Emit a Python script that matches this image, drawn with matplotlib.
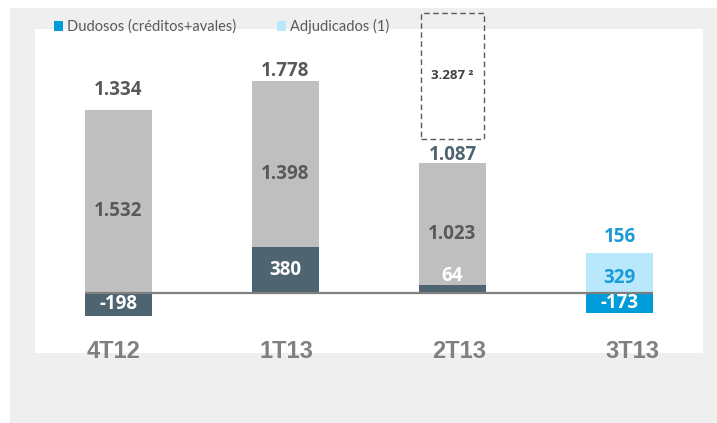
import matplotlib
matplotlib.use("Agg")
import matplotlib.pyplot as plt
from matplotlib.patches import Rectangle

# data
quarters = ["4T12", "1T13", "2T13", "3T13"]
dudosos = [-198, 380, 64, -173]          # bottom segment
resto = [1532, 1398, 1023, 329]          # upper segment
totales = ["1.334", "1.778", "1.087", "156"]
inner_dud = ["-198", "380", "64", "-173"]
inner_resto = ["1.532", "1.398", "1.023", "329"]
broken_label = "3.287 \u00b2"
broken_range = [1290, 2350]             # dashed box for the off-scale 2T13 value
legend_labels = ["Dudosos (créditos+avales)", "Adjudicados (1)"]

GRAY = "#bfbfbf"
SLATE = "#4e6571"
BLUE = "#009bd9"
LBLUE = "#b9e8fc"
TXT = "#595959"
LBLTXT = "#1a9ad6"

bottom_colors = [SLATE, SLATE, SLATE, BLUE]
top_colors = [GRAY, GRAY, GRAY, LBLUE]
top_txt = [TXT, TXT, TXT, LBLTXT]
total_txt = [TXT, TXT, SLATE, LBLTXT]
total_pad = [15, 5, 3, 11]   # px gap above the bar

NUM = ["Open Sans", "DejaVu Sans"]
LEG = ["Lato", "DejaVu Sans"]
FS = 13.5

W, H = 717, 423
fig = plt.figure(figsize=(W / 100, H / 100), dpi=100)
fig.patch.set_facecolor("white")

def px(x, y, w, h, **kw):
    # rectangle in pixel coords from the top-left corner
    r = Rectangle((x / W, 1 - (y + h) / H), w / W, h / H, transform=fig.transFigure, **kw)
    fig.add_artist(r)
    return r

px(10, 8, 707, 415, color="#efefef", lw=0, zorder=-10)
px(35, 29, 668, 324, color="white", lw=0, zorder=-9)

scale = 0.119    # px per unit
zero_px = 292.5
ax_top, ax_bot = 8, 423
ax = fig.add_axes([85 / W, 1 - ax_bot / H, (653 - 85) / W, (ax_bot - ax_top) / H])
ax.set_xlim(-0.2, 3.2)
ax.set_ylim(-(ax_bot - zero_px) / scale, (zero_px - ax_top) / scale)
ax.axis("off")
ax.patch.set_alpha(0)

x = range(len(quarters))
bw = 0.4
ax.bar(x, dudosos, width=bw, color=bottom_colors, zorder=2)
ax.bar(x, resto, width=bw, bottom=[max(d, 0) for d in dudosos], color=top_colors, zorder=2)
ax.axhline(0, color="#7f7f7f", lw=1.6, zorder=3)

u = 1 / scale   # data units per pixel
for i in x:
    d = dudosos[i]
    base = max(d, 0)
    # bottom segment label
    if abs(d) < 150:
        ax.text(i, d - 1 * u, inner_dud[i], ha="center", va="bottom", color="white",
                fontsize=FS, fontweight="bold", family=NUM, zorder=4)
    else:
        ax.text(i, d / 2, inner_dud[i], ha="center", va="center", color="white",
                fontsize=FS, fontweight="bold", family=NUM, zorder=4)
    # upper segment label
    top = base + resto[i]
    off = 10 * u if resto[i] > 600 else 5 * u
    ax.text(i, base + resto[i] / 2 - off, inner_resto[i], ha="center", va="center",
            color=top_txt[i], fontsize=FS, fontweight="bold", family=NUM, zorder=4)
    # total
    ax.text(i, top + total_pad[i] * u, totales[i], ha="center", va="baseline",
            color=total_txt[i], fontsize=FS, fontweight="bold", family=NUM, zorder=4)
    # category
    ax.text(i * 1.034 - 0.027, -(358 - zero_px) * u, quarters[i], ha="center", va="baseline",
            color="#808080", fontsize=17, fontweight="bold", family="Liberation Sans")

# dashed box for the off-scale value
ax.add_patch(Rectangle((2 - 0.19, broken_range[0]), 0.38, broken_range[1] - broken_range[0],
                       fill=False, ec=TXT, lw=1, ls=(0, (4, 2.5)), zorder=3))
ax.text(2, sum(broken_range) / 2, broken_label, ha="center", va="center", color="#404040",
        fontsize=9.5, fontweight="bold", family=NUM)

# legend
for lx, col, lab in [(54, BLUE, legend_labels[0]), (277, LBLUE, legend_labels[1])]:
    px(lx, 21, 9, 10, color=col, lw=0)
    fig.text((lx + 13) / W, 1 - 26.5 / H, lab, ha="left", va="center", color=TXT,
             fontsize=10.5, family=LEG)

fig.savefig("out.png", dpi=100)
